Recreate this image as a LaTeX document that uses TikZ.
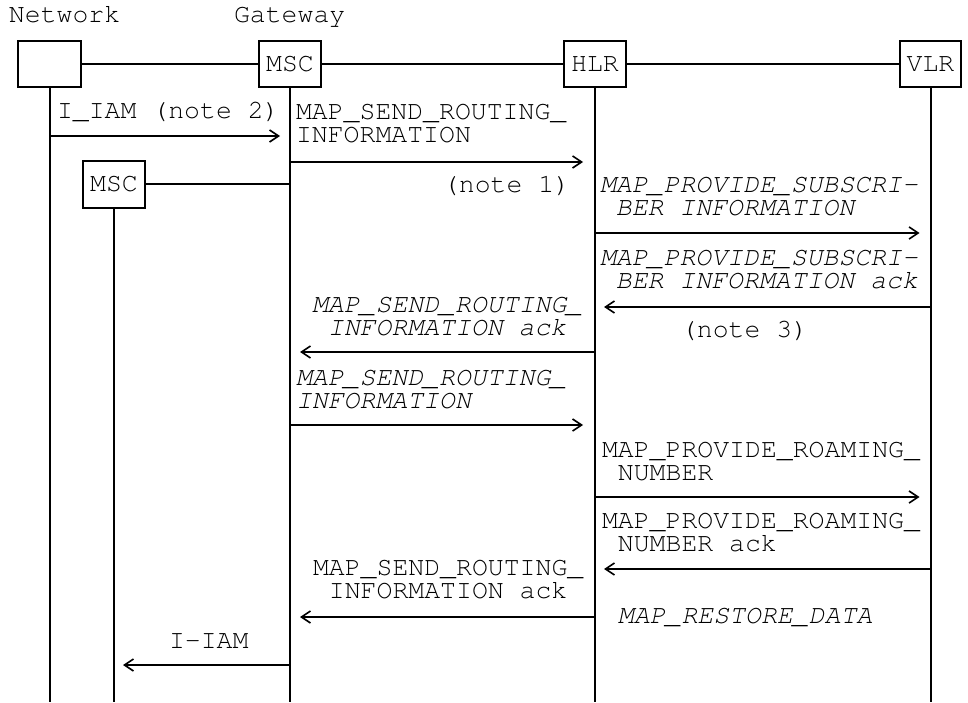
\documentclass[tikz,border=0pt]{standalone}
\usepackage[T1]{fontenc}
\usepackage{courier}
\renewcommand{\familydefault}{\ttdefault}
\usetikzlibrary{arrows.meta}
\newcommand{\twoline}[2]{\begin{tabular}[t]{@{}l@{}}#1\\#2\end{tabular}}
\begin{document}
\begin{tikzpicture}[x=1pt,y=-1pt,
  every node/.style={font=\fontsize{26.5}{23}\selectfont, inner sep=0pt, outer sep=0pt},
  ent/.style={draw, line width=2pt, text height=15pt, text depth=0pt, minimum height=46pt},
  life/.style={line width=2pt},
  msg/.style={line width=2pt, -{Straight Barb[length=9pt,width=12pt,line width=1.6pt]}},
  lbl/.style={anchor=base west},
  lbli/.style={lbl, font=\fontsize{26.5}{23}\selectfont\itshape}]
\useasboundingbox (0,0) rectangle (968,703);
% entities
\node[ent, minimum width=63pt] (net) at (49.5,64) {};
\node[ent, minimum width=62pt] (gw) at (290,64) {MSC};
\node[ent, minimum width=62pt] (hlr) at (595,64) {HLR};
\node[ent, minimum width=61pt] (vlr) at (930.5,64) {VLR};
\node[ent, minimum width=62pt, minimum height=47pt] (msc) at (114,184.5) {MSC};
\coordinate (bot) at (0,702);
% headings
\node[lbl] (hnet) at (9,23) {Network};
\node[lbl] (hgw) at (234,23) {Gateway};
% interconnections
\draw[life] (net) -- (gw);
\draw[life] (gw) -- (hlr);
\draw[life] (hlr) -- (vlr);
\draw[life] (msc.east) -- (msc.east -| gw.south);
% lifelines
\draw[life] (net.south) -- (net.south |- bot);
\draw[life] (gw.south) -- (gw.south |- bot);
\draw[life] (hlr.south) -- (hlr.south |- bot);
\draw[life] (vlr.south) -- (vlr.south |- bot);
\draw[life] (msc.south) -- (msc.south |- bot);
% messages
\node[lbl] (m1) at (57,119) {I\_IAM (note 2)};
\draw[msg] (net.south |- 0,136) -- ([xshift=-10pt]gw.south |- 0,136);

\node[lbl] (m2) at (296,120) {\twoline{MAP\_SEND\_ROUTING\_}{INFORMATION}};
\draw[msg] (gw.south |- 0,162) -- ([xshift=-12pt]hlr.south |- 0,162);

\node[lbl] (n1) at (443,193) {(note 1)};

\node[lbli] (m4) at (600,193) {\twoline{MAP\_PROVIDE\_SUBSCRI-}{\phantom{M}BER INFORMATION}};
\draw[msg] (hlr.south |- 0,233) -- ([xshift=-11pt]vlr.south |- 0,233);

\node[lbli] (m5) at (600,265) {\twoline{MAP\_PROVIDE\_SUBSCRI-}{\phantom{M}BER INFORMATION ack}};
\draw[msg] (vlr.south |- 0,307) -- ([xshift=9pt]hlr.south |- 0,307);

\node[lbli] (m6) at (312,312) {\twoline{MAP\_SEND\_ROUTING\_}{\phantom{M}INFORMATION ack}};
\draw[msg] (hlr.south |- 0,352) -- ([xshift=10pt]gw.south |- 0,352);

\node[lbl] (n3) at (681,337) {(note 3)};

\node[lbli] (m8) at (296,385) {\twoline{MAP\_SEND\_ROUTING\_}{INFORMATION}};
\draw[msg] (gw.south |- 0,425) -- ([xshift=-12pt]hlr.south |- 0,425);

\node[lbl] (m9) at (602,457) {\twoline{MAP\_PROVIDE\_ROAMING\_}{\phantom{M}NUMBER}};
\draw[msg] (hlr.south |- 0,497) -- ([xshift=-11pt]vlr.south |- 0,497);

\node[lbl] (m10) at (602,528) {\twoline{MAP\_PROVIDE\_ROAMING\_}{\phantom{M}NUMBER ack}};
\draw[msg] (vlr.south |- 0,569) -- ([xshift=9pt]hlr.south |- 0,569);

\node[lbl] (m11) at (313,575) {\twoline{MAP\_SEND\_ROUTING\_}{\phantom{M}INFORMATION ack}};
\draw[msg] (hlr.south |- 0,617) -- ([xshift=10pt]gw.south |- 0,617);

\node[lbli] (m12) at (602,623) {\phantom{M}MAP\_RESTORE\_DATA};

\node[lbl] (m13) at (169,648) {I-IAM};
\draw[msg] (gw.south |- 0,665) -- ([xshift=9pt]msc.south |- 0,665);
\end{tikzpicture}
\end{document}
